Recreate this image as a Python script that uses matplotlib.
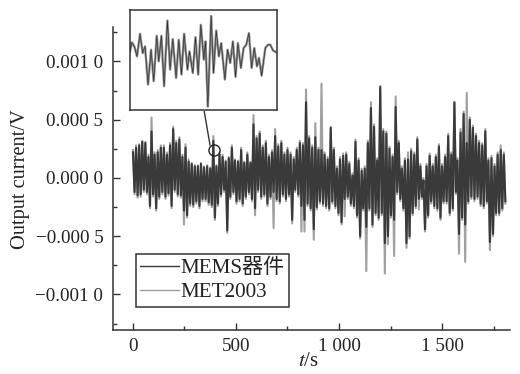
import numpy as np
import matplotlib
matplotlib.use("Agg")
import matplotlib.pyplot as plt
from matplotlib.lines import Line2D
from matplotlib.ticker import MultipleLocator

plt.rcParams['font.family'] = ['Liberation Serif', 'Noto Sans CJK SC']
plt.rcParams['mathtext.fontset'] = 'stix'

# upper and lower limits of the traces, one pair every 15 s, in 1e-4 V
mems_hi = [2.2, 2.6, 2.8, 3.1, 3.0, 1.8, 4.0, 2.0, 2.2, 2.6, 2.6, 2.0, 2.8, 4.2, 3.0, 3.3, 1.8, 2.6, 1.4, 1.2,
           1.0, 1.0, 1.2, 0.9, 1.0, 0.8, 3.2, 1.0, 2.0, 1.8, 1.4, 1.7, 2.6, 1.5, 1.4, 2.4, 1.3, 2.0, 1.3, 4.6,
           3.4, 3.8, 2.6, 3.0, 1.8, 2.2, 3.6, 2.7, 3.0, 2.0, 2.4, 2.0, 1.6, 2.4, 3.0, 2.8, 6.5, 3.4, 2.6, 3.5,
           2.4, 2.4, 2.0, 1.6, 4.3, 2.4, 0.8, 1.6, 1.9, 2.0, 1.2, 0.2, 3.1, 1.5, 0.6, 0.8, 3.0, 6.0, 4.4, 1.5,
           7.8, 4.0, 3.8, 2.5, 1.8, 6.1, 3.0, 0.8, 1.5, 1.6, 2.3, 2.0, 3.3, 1.0, -0.2, 1.0, 1.9, 1.0, 1.8, 2.7,
           1.0, 1.8, 3.6, 2.0, 6.5, 1.5, 3.9, 5.5, 3.0, 5.0, 4.3, 3.6, 3.0, 2.8, 4.0, 1.5, 1.7, 1.0, 2.0, 2.4, 2.0]
mems_lo = [-1.2, -1.5, -1.4, -1.0, -1.2, -2.4, -1.4, -2.6, -1.6, -1.2, -1.6, -1.3, -2.4, -1.0, -1.4, -1.5, -2.8, -3.2, -2.2, -2.3,
           -2.0, -2.4, -1.8, -1.8, -2.1, -2.3, -3.4, -2.2, -1.4, -1.0, -4.5, -1.6, -1.2, -2.0, -1.8, -2.2, -1.6, -1.2, -1.8, -2.6,
           -1.0, -1.6, -1.4, -2.2, -1.6, -1.2, -1.8, -2.0, -1.4, -1.8, -1.4, -3.6, -1.0, -1.4, -2.4, -3.6, -2.2, -2.6, -4.4, -2.5,
           -2.0, -2.2, -2.4, -2.6, -2.0, -2.4, -3.0, -3.8, -1.8, -1.6, -2.2, -2.4, -3.2, -5.0, -2.6, -4.2, -2.6, -4.0, -3.0, -3.4,
           -3.0, -5.6, -5.0, -3.2, -3.6, -1.2, -1.8, -2.6, -5.6, -5.0, -3.0, -2.4, -1.8, -1.6, -4.4, -3.2, -2.0, -2.4, -2.6, -3.4,
           -2.0, -2.0, -3.0, -2.6, -1.2, -4.8, -3.4, -4.0, -2.0, -1.6, -1.8, -1.6, -2.2, -2.4, -2.0, -5.5, -4.8, -3.0, -3.0, -2.6, -2.0]
met_hi = [2.4, 2.8, 2.9, 3.2, 3.1, 2.0, 5.2, 2.2, 2.4, 2.8, 2.8, 2.2, 3.0, 4.4, 3.2, 3.5, 2.0, 2.9, 1.6, 1.3,
          1.1, 1.1, 1.3, 1.0, 1.1, 0.9, 3.6, 1.1, 2.2, 2.0, 1.5, 1.8, 2.8, 1.6, 1.5, 2.6, 1.4, 2.2, 1.4, 5.4,
          3.6, 4.0, 2.8, 3.2, 2.0, 2.4, 4.2, 2.9, 3.2, 2.2, 2.6, 2.2, 1.8, 2.6, 3.2, 3.0, 7.6, 3.6, 2.8, 4.7,
          2.6, 8.1, 2.2, 1.8, 4.4, 2.6, 1.0, 1.8, 2.1, 2.2, 1.4, 0.4, 3.3, 1.7, 0.8, 1.0, 3.2, 6.5, 4.6, 1.7,
          7.9, 4.2, 4.0, 2.7, 2.0, 7.0, 3.2, 1.0, 1.7, 2.2, 2.5, 2.2, 3.5, 1.2, 0.0, 1.2, 2.1, 1.2, 2.0, 2.9,
          1.2, 2.0, 3.8, 2.2, 6.5, 1.7, 4.2, 5.7, 7.3, 5.2, 4.5, 3.8, 3.2, 3.0, 4.2, 1.7, 1.9, 1.2, 2.2, 2.8, 2.2]
met_lo = [-1.4, -1.7, -1.6, -1.2, -1.4, -2.6, -1.6, -2.8, -1.8, -1.4, -1.8, -1.5, -2.6, -1.2, -1.6, -1.7, -4.0, -3.4, -2.4, -2.5,
          -2.2, -2.6, -2.0, -2.0, -2.3, -2.5, -3.6, -2.4, -1.6, -1.2, -4.7, -1.8, -1.4, -2.2, -2.0, -2.4, -1.8, -1.4, -2.0, -3.2,
          -1.2, -1.8, -1.6, -2.4, -1.8, -4.3, -2.0, -2.2, -1.6, -2.0, -1.6, -3.9, -1.2, -1.6, -4.6, -4.6, -2.4, -2.8, -5.3, -2.7,
          -2.2, -2.4, -2.6, -2.8, -2.2, -2.6, -3.2, -4.0, -3.3, -1.8, -2.4, -2.6, -3.4, -5.2, -2.8, -8.0, -2.8, -4.2, -3.2, -3.6,
          -3.2, -8.2, -5.7, -3.4, -6.7, -1.4, -2.0, -2.8, -6.0, -5.2, -3.2, -2.6, -2.7, -1.8, -4.6, -3.4, -2.2, -2.6, -2.8, -3.6,
          -2.2, -2.2, -3.2, -2.8, -1.4, -6.5, -3.6, -7.2, -2.2, -1.8, -2.0, -1.8, -2.4, -2.6, -2.2, -6.2, -5.0, -3.2, -3.2, -2.8, -2.2]

# zoomed part of the trace
inset_t = [0, 0.6, 1.3, 2.1, 3.0, 3.8, 4.5, 5.4, 6.3, 7.1, 8.0, 8.6, 9.4, 10.2, 11.2, 12.0, 12.8, 13.8, 14.6,
           15.4, 16.2, 17.2, 17.8, 18.8, 19.6, 20.4, 21.2, 22.1, 22.6, 23.3, 24.3, 25.0, 25.8, 26.6, 27.3, 28.4,
           29.2, 30.0, 30.8, 31.6, 32.3, 33.2, 34.0, 34.8, 35.6, 36.4, 37.2, 38.0, 38.6, 39.4, 40.5, 41.3, 42.0, 42.8, 43.8]
inset_v = [17.7, 20.4, 19.2, 16.2, 23.0, 17.2, 19.2, 7.7, 18.2, 8.7, 22.4, 14.7, 22.4, 7.2, 27.0, 12.2, 21.4, 9.7, 21.2,
           10.7, 23.0, 12.2, 17.7, 11.2, 22.0, 10.7, 25.7, 15.2, 20.7, 1.0, 28.4, 11.2, 24.0, 16.2, 20.2, 9.2,
           18.2, 14.2, 20.7, 10.0, 20.2, 12.7, 18.7, 19.7, 23.2, 12.7, 18.7, 13.2, 15.7, 10.4, 18.7, 19.7, 19.7, 18.0, 17.4]

y_ticks = [-0.001, -0.0005, 0.0, 0.0005, 0.001]
y_labels = ['\u22120.001 0', '\u22120.000 5', '0.000 0', '0.000 5', '0.001 0']
x_ticks = [0, 500, 1000, 1500]
x_labels = ['0', '500', '1 000', '1 500']


def zigzag(hi, lo):
    # goes up and down between the two limits so the band fills in
    return np.column_stack([hi, lo]).ravel() * 1e-4


W, H = 520, 374
fig = plt.figure(figsize=(W / 100, H / 100), dpi=100)
ax = fig.add_axes([113 / W, 1 - 330 / H, 397 / W, 303 / H])

t = np.arange(2 * len(mems_hi)) * 7.5
dark = '#3a3a3a'
grey = '#a0a0a0'
ax.plot(t, zigzag(met_hi, met_lo), color=grey, lw=1.5)
ax.plot(t, zigzag(mems_hi, mems_lo), color=dark, lw=1.5)

ax.set_xlim(-97, 1830)
ax.set_ylim(-0.001305, 0.001296)
ax.set_xticks(x_ticks, x_labels)
ax.set_yticks(y_ticks, y_labels)
ax.xaxis.set_minor_locator(MultipleLocator(250))
ax.yaxis.set_minor_locator(MultipleLocator(0.00025))
ax.tick_params(which='major', direction='in', length=5, width=1.0, labelsize=13.7, color='#333333', labelcolor='#222222')
ax.tick_params(which='minor', direction='in', length=3, width=1.0, color='#333333')
ax.tick_params(axis='x', pad=6)
ax.tick_params(axis='y', pad=7)
ax.spines['top'].set_visible(False)
ax.spines['right'].set_visible(False)
ax.spines['left'].set_linewidth(1.1)
ax.spines['bottom'].set_linewidth(1.1)
ax.spines['left'].set_color('#333333')
ax.spines['bottom'].set_color('#333333')

fig.text(21 / W, 1 - 179 / H, 'Output current/V', rotation=90, ha='center', va='center', fontsize=14.7, color='#222222')
fig.text(308 / W, 1 - 362 / H, '$\\mathit{t}$/s', ha='center', va='center', fontsize=15, color='#222222')

# the circled spot and the line up to the inset
ax.plot([393], [0.00024], marker='o', ms=8, mfc='none', mec='#222222', mew=1.0)
fig.add_artist(Line2D([204.3 / W, 210 / W], [1 - 111.7 / H, 1 - 145 / H], color='#333333', lw=1.0))

handles = [Line2D([], [], color=dark, lw=1.0), Line2D([], [], color=grey, lw=1.0)]
leg = ax.legend(handles, ['MEMS器件', 'MET2003'], loc='lower left',
                bbox_to_anchor=(136 / W, 1 - 306.5 / H), bbox_transform=fig.transFigure,
                fontsize=15.2, frameon=True, fancybox=False, framealpha=1, edgecolor='#333333',
                borderaxespad=0, borderpad=0.2, labelspacing=0.2, handlelength=1.85, handletextpad=0.05)
leg.get_frame().set_linewidth(1.1)
for text in leg.get_texts():
    text.set_color('#222222')

inset = fig.add_axes([130 / W, 1 - 110 / H, 147 / W, 100 / H])
inset.plot(inset_t, inset_v, color='#8c8c8c', lw=1.7, solid_joinstyle='round')
inset.plot(inset_t, inset_v, color='#222222', lw=0.4, solid_joinstyle='round')
inset.set_xlim(0, 44)
inset.set_ylim(0, 30.2)
inset.set_xticks([])
inset.set_yticks([])
for side in inset.spines.values():
    side.set_linewidth(1.1)
    side.set_color('#333333')

fig.savefig('out.png', dpi=100)
